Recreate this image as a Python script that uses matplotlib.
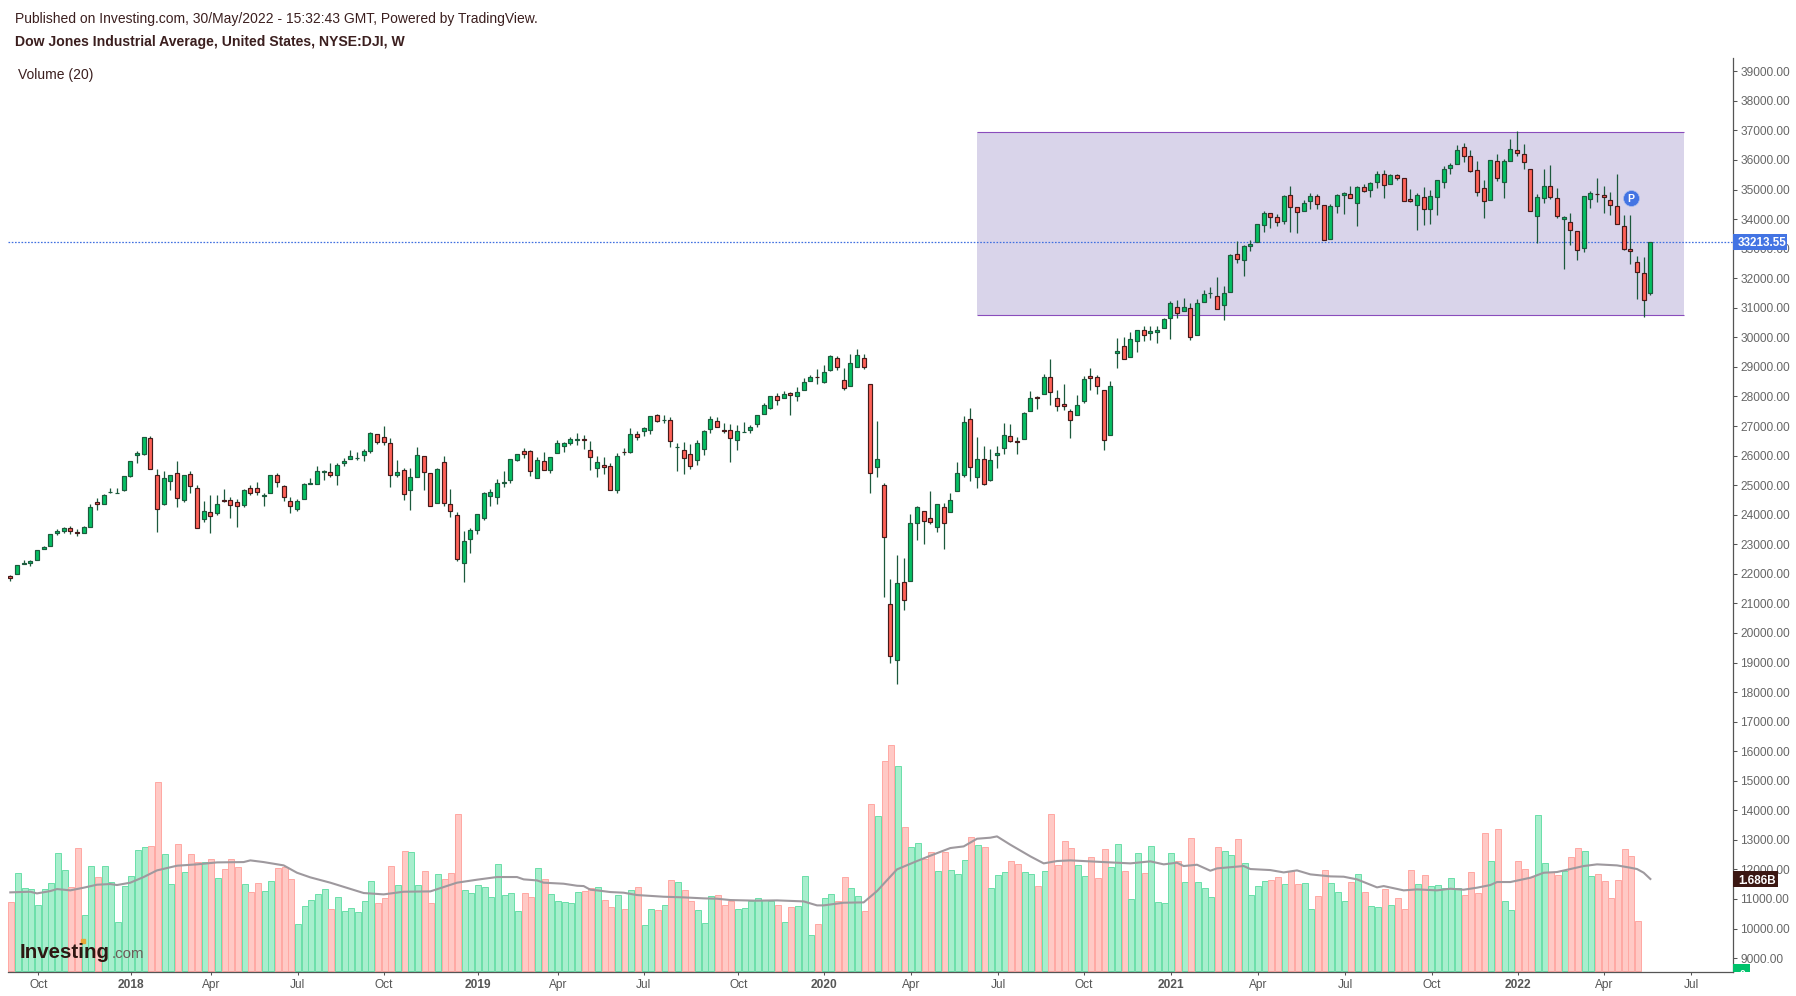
#!/usr/bin/env python3
"""Dow Jones weekly candles with volume, Investing.com / TradingView look."""

import matplotlib
matplotlib.use("Agg")
import matplotlib.pyplot as plt
from matplotlib.patches import Rectangle
from matplotlib.transforms import Bbox, TransformedBbox

plt.rcParams["font.family"] = ["Liberation Sans", "DejaVu Sans"]

opens = [
    21934, 21979, 22317, 22351, 22452, 22824, 22925, 23398, 23432, 23567,
    23409, 23398, 23600, 24445, 24377, 24771, 24740, 24850, 25323, 26033,
    26066, 26607, 25346, 24377, 25154, 25413, 24513, 25380, 24907, 23871,
    24096, 24073, 24513, 24501, 24434, 24332, 24907, 24907, 24648, 24749,
    25346, 24974, 24467, 24208, 24546, 25053, 25053, 25458, 25447, 25357,
    25762, 25897, 25920, 26033, 26168, 26731, 26629, 26427, 25357, 25515,
    24850, 25289, 25988, 25413, 24411, 25785, 24378, 24006, 22351, 23184,
    23499, 23905, 24648, 24614, 25087, 25188, 25853, 26168, 26168, 25256,
    25830, 25526, 26100, 26337, 26438, 26540, 26573, 26202, 25594, 25695,
    25661, 24851, 26134, 26134, 26742, 26844, 26877, 27373, 27204, 27215,
    26292, 26202, 26067, 25864, 26235, 26911, 27181, 26877, 26877, 26540,
    26799, 26877, 27080, 27418, 27620, 28026, 27958, 28127, 28026, 28229,
    28533, 28668, 28499, 28904, 29309, 28566, 28364, 29005, 29309, 28431,
    25616, 25020, 20966, 19075, 21710, 21743, 23736, 24142, 23905, 23601,
    24277, 24108, 24817, 25358, 27249, 25290, 25898, 25178, 26033, 26270,
    26675, 26484, 26574, 27520, 27993, 28094, 28668, 27959, 27756, 27520,
    27385, 27858, 28702, 28668, 28229, 26709, 29467, 29715, 29332, 29873,
    30256, 30143, 30177, 30312, 30662, 31034, 30899, 31000, 30088, 31203,
    31495, 31405, 31101, 31540, 32824, 32621, 33094, 33229, 33804, 34198,
    34063, 33939, 34817, 34412, 34277, 34614, 34783, 34479, 33331, 34445,
    34817, 34851, 34547, 35087, 34986, 35256, 35526, 35189, 35481, 35391,
    34682, 34479, 34749, 34344, 34749, 35256, 35729, 35864, 36438, 36134,
    35662, 35053, 34648, 35966, 35256, 35966, 36337, 36202, 35695, 34108,
    34716, 35121, 34716, 34006, 33905, 33601, 33027, 34682, 34851, 34817,
    34648, 34445, 33770, 32993, 32554, 32182, 31507,
]
highs = [
    21956, 22306, 22452, 22452, 22812, 22925, 23353, 23533, 23600, 23634,
    23533, 23634, 24355, 24580, 24715, 24918, 24918, 25312, 25819, 26168,
    26629, 26652, 25560, 25470, 25346, 25830, 25346, 25492, 25019, 24479,
    24659, 24681, 24884, 24614, 24546, 24884, 25019, 25121, 24738, 25346,
    25425, 25019, 24614, 24546, 25087, 25256, 25639, 25526, 25740, 25762,
    25931, 26202, 26111, 26235, 26810, 26731, 26990, 26584, 25864, 25593,
    25593, 26303, 25988, 25413, 25582, 25999, 24862, 24107, 23443, 23567,
    24040, 24772, 24884, 25222, 25470, 25898, 26067, 26269, 26190, 25965,
    26134, 25965, 26517, 26472, 26641, 26753, 26708, 26506, 25999, 25943,
    25751, 26100, 26269, 26945, 26844, 26979, 27350, 27418, 27384, 27316,
    26438, 26472, 26404, 26540, 26877, 27350, 27316, 27114, 27080, 27046,
    27148, 27046, 27384, 27789, 28026, 28127, 28195, 28138, 28330, 28634,
    28735, 28915, 29050, 29411, 29377, 28972, 29445, 29591, 29445, 28431,
    27159, 25065, 21811, 22622, 22520, 24040, 24311, 24142, 24795, 24378,
    24412, 24750, 25797, 27351, 27621, 26641, 26337, 26236, 26337, 27114,
    27081, 26641, 27486, 28195, 28026, 28770, 29265, 28229, 28409, 27560,
    28060, 28702, 28972, 28736, 28229, 28533, 29963, 30008, 30165, 30256,
    30368, 30368, 30368, 30661, 31214, 31248, 31315, 31146, 31281, 31585,
    31687, 32058, 31721, 32824, 33263, 33128, 33297, 33837, 34288, 34198,
    34175, 34828, 35121, 34412, 34648, 34885, 34851, 34479, 34513, 34851,
    34918, 35121, 35121, 35189, 35256, 35628, 35662, 35526, 35526, 35391,
    35020, 34885, 35087, 34986, 35324, 35797, 35898, 36517, 36574, 36348,
    35966, 35324, 35999, 36213, 36033, 36709, 36990, 36540, 35695, 34851,
    35695, 35830, 35053, 34108, 34209, 33601, 34783, 34952, 35391, 35121,
    34918, 35526, 34141, 34141, 32756, 32734, 33213.55,
]
lows = [
    21765, 21979, 22317, 22272, 22452, 22824, 22925, 23319, 23387, 23353,
    23285, 23398, 23600, 24163, 24377, 24738, 24738, 24805, 25278, 25751,
    26010, 25560, 23420, 24332, 24839, 24265, 24434, 24738, 23567, 23758,
    23387, 23995, 24434, 23893, 23589, 24265, 24670, 24670, 24299, 24749,
    24940, 24467, 24062, 24130, 24546, 25053, 25053, 25177, 25278, 25008,
    25661, 25897, 25864, 25819, 26089, 26393, 26359, 24940, 25278, 24501,
    24163, 25289, 24839, 24310, 24411, 24299, 23927, 22441, 21720, 22711,
    23353, 23826, 24299, 24366, 24941, 25076, 25819, 25920, 25312, 25256,
    25526, 25414, 26100, 26123, 26359, 26359, 26224, 25515, 25278, 25380,
    24851, 24738, 26022, 26089, 26540, 26652, 26731, 27148, 27103, 26292,
    25481, 25380, 25537, 25684, 26022, 26765, 26979, 26765, 25785, 26190,
    26799, 26765, 26967, 27418, 27587, 27711, 27958, 27373, 27846, 28229,
    28533, 28420, 28465, 28870, 28904, 28217, 28364, 29005, 28938, 24738,
    25278, 21225, 18996, 18287, 20786, 21743, 23140, 23016, 23691, 23410,
    22847, 24108, 24817, 25279, 25144, 24907, 24997, 25144, 25583, 26056,
    26461, 26056, 26574, 27520, 27576, 28094, 27711, 27508, 27531, 26596,
    27385, 27779, 28218, 28083, 26191, 26709, 28961, 29276, 29332, 29501,
    29873, 29895, 29805, 30312, 29929, 30640, 30899, 29908, 30088, 31203,
    31315, 30966, 30572, 31540, 32531, 32092, 32937, 33229, 33578, 33714,
    33781, 33826, 33578, 33522, 34277, 34355, 34355, 33297, 33331, 34220,
    34186, 34716, 33781, 34907, 34761, 35065, 34727, 35189, 35312, 34614,
    34569, 33646, 33815, 33849, 34153, 35065, 35538, 35864, 35932, 35583,
    34794, 34051, 34648, 35301, 34704, 35966, 36146, 35684, 34277, 33196,
    34536, 34671, 34040, 32306, 33139, 32610, 32880, 34389, 34569, 34220,
    34153, 33837, 32959, 32497, 31281, 30685, 31428,
]
closes = [
    21844, 22306, 22373, 22441, 22812, 22891, 23353, 23454, 23555, 23465,
    23387, 23589, 24265, 24377, 24670, 24783, 24749, 25312, 25819, 26100,
    26629, 25560, 24208, 25244, 25346, 24580, 25346, 24985, 23567, 24130,
    23972, 24377, 24467, 24344, 24310, 24850, 24749, 24783, 24681, 25346,
    25121, 24614, 24310, 24467, 25042, 25087, 25481, 25492, 25357, 25684,
    25830, 25988, 25931, 26156, 26776, 26472, 26472, 25357, 25458, 24715,
    25278, 26033, 25458, 24310, 25548, 24411, 24130, 22486, 23094, 23466,
    24040, 24749, 24783, 25087, 25121, 25898, 26067, 26067, 25492, 25864,
    25526, 25965, 26438, 26438, 26573, 26573, 26540, 25965, 25796, 25627,
    24851, 25999, 26123, 26742, 26641, 26945, 27350, 27170, 27215, 26506,
    26303, 25931, 25661, 26438, 26844, 27249, 26979, 26832, 26607, 26844,
    26810, 26979, 27384, 27722, 28026, 27879, 28093, 28060, 28161, 28499,
    28668, 28657, 28837, 29377, 29005, 28296, 29141, 29411, 29005, 25425,
    25898, 23230, 19210, 21676, 21102, 23736, 24277, 23804, 23770, 24378,
    23703, 24513, 25425, 27148, 25628, 25898, 25054, 25865, 26101, 26709,
    26506, 26461, 27452, 27959, 27959, 28668, 28162, 27689, 27689, 27216,
    27722, 28601, 28634, 28364, 26540, 28364, 29524, 29276, 29951, 30256,
    30075, 30199, 30233, 30627, 31146, 30831, 31034, 30020, 31169, 31473,
    31507, 30966, 31507, 32790, 32655, 33094, 33162, 33837, 34209, 34074,
    33905, 34783, 34412, 34243, 34547, 34783, 34513, 33297, 34445, 34817,
    34885, 34716, 35087, 34941, 35222, 35526, 35155, 35493, 35391, 34614,
    34614, 34817, 34344, 34783, 35324, 35695, 35830, 36337, 36134, 35628,
    34918, 34614, 35999, 35391, 35966, 36371, 36236, 35932, 34277, 34749,
    35121, 34749, 34108, 34074, 33635, 32959, 34783, 34885, 34840, 34738,
    34479, 33837, 32993, 32925, 32216, 31270, 33213.55,
]

# volume in billions, the last two weeks have no bar
volumes = [
    1.256, 1.789, 1.513, 1.495, 1.201, 1.495, 1.605, 2.157, 1.844, 1.532,
    2.249, 1.017, 1.918, 1.716, 1.918, 1.624, 0.888, 1.550, 1.734, 2.212,
    2.267, 2.285, 3.462, 2.138, 1.587, 2.322, 1.807, 2.138, 1.991, 1.991,
    2.046, 1.697, 1.863, 2.046, 1.899, 1.587, 1.440, 1.605, 1.458, 1.642,
    1.881, 1.899, 1.679, 0.852, 1.183, 1.293, 1.403, 1.495, 1.127, 1.348,
    1.091, 1.146, 1.072, 1.274, 1.642, 1.238, 1.330, 1.918, 1.569, 2.193,
    2.175, 1.569, 1.826, 1.238, 1.771, 1.679, 1.789, 2.874, 1.477, 1.421,
    1.569, 1.532, 1.348, 1.955, 1.385, 1.421, 1.091, 1.421, 1.348, 1.881,
    1.679, 1.403, 1.274, 1.256, 1.238, 1.440, 1.458, 1.513, 1.532, 1.293,
    1.164, 1.385, 1.127, 1.477, 1.532, 0.833, 1.127, 1.109, 1.201, 1.660,
    1.624, 1.477, 1.274, 1.109, 0.870, 1.366, 1.385, 1.201, 1.274, 1.127,
    1.146, 1.274, 1.330, 1.293, 1.274, 1.201, 0.888, 1.164, 1.183, 1.734,
    0.649, 0.852, 1.330, 1.403, 1.274, 1.716, 1.513, 1.366, 1.091, 3.057,
    2.837, 3.848, 4.142, 3.756, 2.635, 2.267, 2.341, 2.046, 2.175, 1.826,
    2.175, 1.844, 1.771, 2.028, 2.451, 2.304, 2.267, 1.513, 1.752, 1.807,
    2.010, 1.955, 1.807, 1.771, 1.550, 1.826, 2.874, 1.936, 2.377, 2.249,
    1.936, 1.734, 2.083, 1.697, 2.230, 1.899, 2.322, 1.826, 1.311, 2.157,
    1.789, 2.285, 1.256, 1.238, 2.157, 2.010, 1.624, 2.432, 1.624, 1.513,
    1.348, 2.267, 2.193, 2.120, 2.414, 1.973, 1.385, 1.550, 1.642, 1.660,
    1.716, 1.587, 1.826, 1.587, 1.605, 1.127, 1.366, 1.844, 1.605, 1.440,
    1.274, 1.624, 1.771, 1.440, 1.183, 1.164, 1.495, 1.201, 1.330, 1.127,
    1.844, 1.587, 1.752, 1.550, 1.569, 1.513, 1.697, 1.513, 1.385, 1.807,
    1.421, 2.524, 2.010, 2.598, 1.274, 1.109, 2.010, 1.863, 1.716, 2.855,
    1.973, 1.807, 1.752, 1.826, 2.083, 2.249, 2.193, 1.734, 1.771, 1.642,
    1.330, 1.660, 2.230, 2.102, 0.907,
]

# Volume (20) average, read at the weeks where the curve bends
ma_weeks = [
    0, 3, 4, 6, 7, 9, 11, 13, 15, 16, 18, 20, 22, 25, 28, 31, 35, 36, 38, 41,
    43, 45, 48, 53, 56, 59, 63, 65, 67, 70, 73, 76, 77, 79, 80, 83, 85, 86,
    87, 88, 90, 92, 94, 98, 101, 104, 106, 108, 110, 112, 115, 119, 121, 122,
    125, 128, 130, 133, 136, 138, 141, 143, 145, 147, 148, 150, 153, 155,
    157, 159, 165, 168, 171, 173, 175, 176, 178, 180, 181, 185, 186, 189,
    191, 193, 195, 198, 200, 202, 205, 206, 209, 211, 214, 216, 218, 220,
    222, 223, 225, 228, 230, 232, 236, 238, 241, 243, 244, 245, 246,
]
ma_values = [
    1.440, 1.452, 1.421, 1.464, 1.501, 1.477, 1.526, 1.581, 1.593, 1.575,
    1.618, 1.722, 1.844, 1.930, 1.955, 1.991, 1.997, 2.028, 1.997, 1.936,
    1.801, 1.716, 1.618, 1.428, 1.403, 1.452, 1.458, 1.538, 1.618, 1.673,
    1.722, 1.722, 1.679, 1.660, 1.618, 1.599, 1.562, 1.556, 1.489, 1.477,
    1.446, 1.434, 1.391, 1.360, 1.348, 1.330, 1.323, 1.299, 1.293, 1.287,
    1.293, 1.274, 1.201, 1.201, 1.250, 1.256, 1.464, 1.863, 2.016, 2.114,
    2.255, 2.285, 2.426, 2.445, 2.469, 2.316, 2.102, 1.973, 2.016, 2.028,
    1.991, 1.973, 2.010, 1.955, 1.985, 1.924, 1.948, 1.838, 1.881, 1.924,
    1.869, 1.850, 1.807, 1.844, 1.771, 1.734, 1.728, 1.679, 1.532, 1.556,
    1.477, 1.495, 1.477, 1.507, 1.489, 1.526, 1.575, 1.630, 1.630, 1.709,
    1.801, 1.814, 1.924, 1.955, 1.936, 1.893, 1.869, 1.801, 1.686,
]

price_ticks = list(range(9000, 39001, 1000))
date_ticks = [
    4.2, 18.1, 30.1, 43.1, 56.0, 70.2, 82.2, 95.0, 109.2, 122.0,
    135.1, 148.2, 161.0, 174.1, 187.1, 200.2, 213.2, 226.2, 239.0, 252.1,
]
date_labels = [
    "Oct", "2018", "Apr", "Jul", "Oct", "2019", "Apr", "Jul", "Oct", "2020",
    "Apr", "Jul", "Oct", "2021", "Apr", "Jul", "Oct", "2022", "Apr", "Jul",
]

range_low = 30763
range_high = 36940
range_start = 145
range_end = 251
last_price = 33213.55
last_volume = 1.686

GREEN = "#05BF63"
RED = "#FF6157"
GREEN_EDGE = "#1C5A3D"
RED_EDGE = "#451A1A"
AXIS = "#555555"
TEXT = "#3B1F1F"
W, H = 1796, 996
LEFT, RIGHT, TOP, BOTTOM = 8, 1732.7, 58.3, 972.3


def fig_xy(x, y):
    """Pixel position from the top left corner to figure fractions."""
    return x / W, 1 - y / H


def add_box(fig, x0, y0, x1, y1, color):
    fx, fy = fig_xy(x0, y1)
    fig.patches.append(
        Rectangle((fx, fy), (x1 - x0) / W, (y1 - y0) / H, transform=fig.transFigure,
                  facecolor=color, edgecolor="none", figure=fig, zorder=2)
    )


def main() -> None:
    fig = plt.figure(figsize=(W / 100, H / 100), dpi=100, facecolor="white")
    rect = [LEFT / W, 1 - BOTTOM / H, (RIGHT - LEFT) / W, (BOTTOM - TOP) / H]
    ax_vol = fig.add_axes(rect, zorder=1)
    ax = fig.add_axes(rect, zorder=2)
    ax.patch.set_visible(False)

    x_min, x_max = -0.345, 258.35
    weeks = list(range(len(opens)))

    # volume pane
    vol_weeks = list(range(len(volumes)))
    is_up = [c >= o for o, c in zip(opens, closes)]
    vol_face = ["#A7EECD" if is_up[i] else "#FFC9C5" for i in vol_weeks]
    vol_edge = ["#6ADFA9" if is_up[i] else "#FFA8A3" for i in vol_weeks]
    ax_vol.bar([i + 0.15 for i in vol_weeks], volumes, width=0.93, color=vol_face,
               edgecolor=vol_edge, linewidth=0.7)
    ax_vol.plot(ma_weeks, ma_values, color="#9E999E", linewidth=1.5, zorder=5)
    ax_vol.set_xlim(x_min, x_max)
    ax_vol.set_ylim(-0.029, 16.77)
    ax_vol.axis("off")

    # range box and last price line
    ax.fill_between([range_start, range_end], range_low, range_high,
                    color="#D9D4EA", linewidth=0, zorder=1)
    ax.hlines([range_low, range_high], range_start, range_end, color="#8A4CBC",
              linewidth=0.8, zorder=1.5)
    ax.axhline(last_price, color="#3F6FE0", linewidth=0.9, linestyle=(0, (1.3, 1.3)),
               zorder=1.6)

    # candles
    ax.vlines(weeks, lows, highs, color=GREEN_EDGE, linewidth=0.9, zorder=2)
    bottoms = [min(o, c) for o, c in zip(opens, closes)]
    heights = [abs(o - c) for o, c in zip(opens, closes)]
    ax.bar(weeks, heights, bottom=bottoms, width=0.6,
           color=[GREEN if u else RED for u in is_up],
           edgecolor=[GREEN_EDGE if u else RED_EDGE for u in is_up],
           linewidth=0.85, zorder=3)

    # marker for the published idea
    ax.plot([243.1], [34716], marker="o", markersize=11.5, color="#4374E3",
            markeredgecolor="#A9BEEF", markeredgewidth=0.5, zorder=4)
    ax.text(243.1, 34716, "P", color="white", fontsize=7.5, fontweight="bold",
            ha="center", va="center_baseline", zorder=5)

    ax.set_xlim(x_min, x_max)
    ax.set_ylim(8520, 39440)
    ax.yaxis.tick_right()
    ax.set_yticks(price_ticks)
    ax.set_yticklabels([f"{p:.2f}" for p in price_ticks])
    ax.set_xticks(date_ticks)
    ax.set_xticklabels(date_labels)
    for label, text in zip(ax.get_xticklabels(), date_labels):
        if text.isdigit():
            label.set_fontweight("bold")
            label.set_color("#444444")
    ax.tick_params(axis="y", length=3.2, width=0.75, color=AXIS, labelcolor="#666666",
                   labelsize=8.6, pad=2.2)
    ax.tick_params(axis="x", length=2.5, width=0.75, color=AXIS, labelcolor="#555555",
                   labelsize=8.6, pad=2.2)
    for side in ("left", "top"):
        ax.spines[side].set_visible(False)
    for side in ("right", "bottom"):
        ax.spines[side].set_color(AXIS)
        ax.spines[side].set_linewidth(0.9)

    # labels on the price scale
    add_box(fig, RIGHT, 234, 1786.7, 250, "#4374E3")
    add_box(fig, RIGHT, 871, 1778, 887, "#3B1712")
    add_box(fig, RIGHT, 964, 1750, BOTTOM, "#00C26B")
    fig.text(*fig_xy(1761.7, 242), f"{last_price:.2f}", color="white", fontsize=8.4,
             fontweight="bold", ha="center", va="center_baseline", zorder=4)
    fig.text(*fig_xy(1756.7, 879), f"{last_volume:.3f}B", color="white", fontsize=8.4,
             fontweight="bold", ha="center", va="center_baseline", zorder=4)
    zero = fig.text(*fig_xy(1742, 974), "0", color="white", fontsize=7.5,
                    fontweight="bold", ha="center", va="center_baseline", zorder=4)
    clip = Bbox.from_extents(RIGHT / W, 1 - BOTTOM / H, 1750 / W, 1 - 964 / H)
    zero.set_clip_box(TransformedBbox(clip, fig.transFigure))
    zero.set_clip_on(True)

    # header
    fig.text(*fig_xy(15, 17), "Published on Investing.com, 30/May/2022 - 15:32:43 GMT, "
             "Powered by TradingView.", color=TEXT, fontsize=10, va="center_baseline")
    fig.text(*fig_xy(15, 40.5), "Dow Jones Industrial Average, United States, NYSE:DJI, W",
             color=TEXT, fontsize=10.1, fontweight="bold", va="center_baseline")
    fig.text(*fig_xy(18, 73), "Volume (20)", color=TEXT, fontsize=10, va="center_baseline")

    # watermark
    fig.text(*fig_xy(20, 950), "Investing", color="#2E1712", fontsize=14.8,
             fontweight="bold", va="center_baseline", zorder=4)
    fig.text(*fig_xy(112, 952), ".com", color="#6B5B58", fontsize=10.8,
             va="center_baseline", zorder=4)
    fig.lines.append(
        plt.Line2D([83 / W], [1 - 941 / H], marker="s", markersize=2.6, color="#E8A93A",
                   transform=fig.transFigure, figure=fig, zorder=4)
    )

    fig.savefig("out.png", dpi=100)
    plt.close(fig)


if __name__ == "__main__":
    main()
